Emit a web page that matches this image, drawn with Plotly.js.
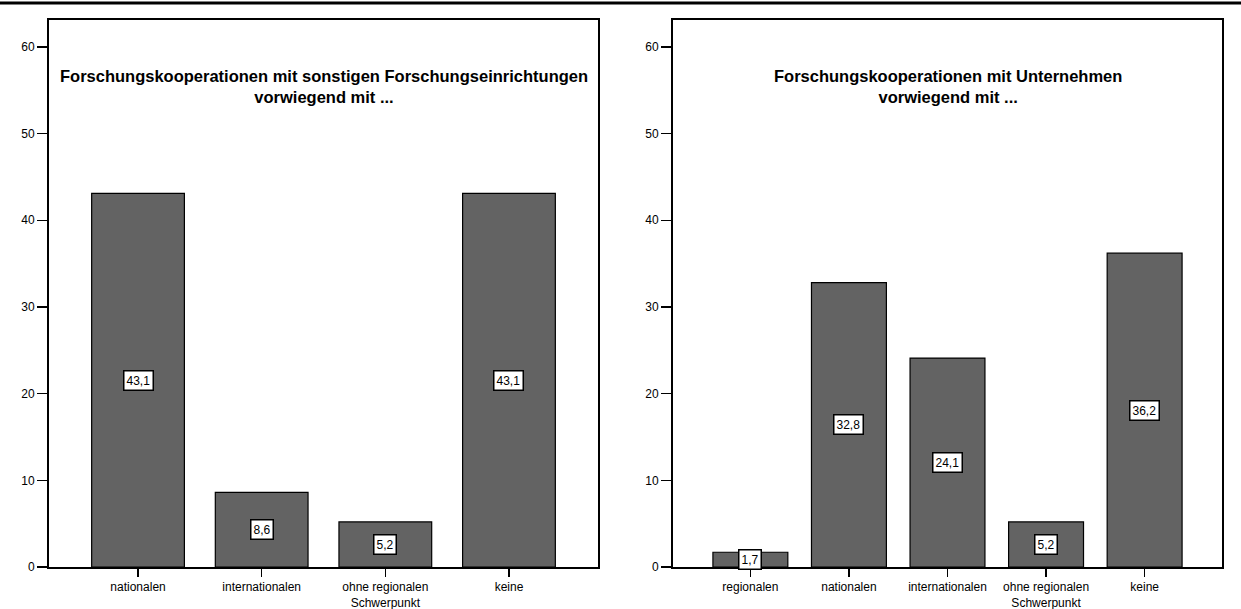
<!DOCTYPE html>
<html>
<head>
<meta charset="utf-8">
<script src="https://cdn.plot.ly/plotly-3.0.1.min.js"></script>
<style>
html,body{margin:0;padding:0;background:#fff;}
#chart{width:1241px;height:609px;}
</style>
</head>
<body>
<div id="chart"></div>
<script>
const leftCategories = ["nationalen", "internationalen", "ohne regionalen<br>Schwerpunkt", "keine"];
const leftValues = [43.1, 8.6, 5.2, 43.1];
const leftTitle = "Forschungskooperationen mit sonstigen Forschungseinrichtungen<br>vorwiegend mit ...";

const rightCategories = ["regionalen", "nationalen", "internationalen", "ohne regionalen<br>Schwerpunkt", "keine"];
const rightValues = [1.7, 32.8, 24.1, 5.2, 36.2];
const rightTitle = "Forschungskooperationen mit Unternehmen<br>vorwiegend mit ...";

const yTicks = [0, 10, 20, 30, 40, 50, 60];

const W = 1241, H = 609;
const FONT = "Arial, 'Liberation Sans', sans-serif";
const fmt = v => v.toFixed(1).replace(".", ",");

const barStyle = {color: "#636363", line: {color: "#000", width: 1.2}};

const traces = [
  {type: "bar", x: leftCategories, y: leftValues, xaxis: "x", yaxis: "y",
   marker: barStyle, width: 0.75, hoverinfo: "x+y"},
  {type: "bar", x: rightCategories, y: rightValues, xaxis: "x2", yaxis: "y2",
   marker: barStyle, width: 0.76, hoverinfo: "x+y"}
];

function xAxis(domain, n, anchor) {
  const pad = n === 4 ? 0.72 : 0.785;
  return {
    domain: domain, anchor: anchor, type: "category",
    range: [-pad, n - 1 + pad],
    showline: true, linecolor: "#000", linewidth: 2, mirror: true,
    ticks: "outside", ticklen: 8, tickwidth: 1.5, tickcolor: "#000",
    showgrid: false, zeroline: false, fixedrange: true,
    tickfont: {family: FONT, size: 12, color: "#000"}
  };
}
function yAxis(domain, anchor) {
  return {
    domain: domain, anchor: anchor, range: [0, 63.1],
    tickvals: yTicks, ticktext: yTicks.map(String),
    showline: true, linecolor: "#000", linewidth: 2, mirror: true,
    ticks: "outside", ticklen: 10, tickwidth: 1.5, tickcolor: "#000",
    showgrid: false, zeroline: false, fixedrange: true,
    tickfont: {family: FONT, size: 12, color: "#000"}
  };
}

const yDom = [(H - 567) / H, (H - 20) / H];
const annotations = [];
function valueLabel(c, v, xr, yr) {
  return {
    x: c, y: v / 2, xref: xr, yref: yr, text: fmt(v),
    xanchor: "center", yanchor: "middle",
    showarrow: false, bgcolor: "#fff", bordercolor: "#000", borderwidth: 1.5, borderpad: 2,
    font: {family: FONT, size: 12, color: "#000"}
  };
}
leftCategories.forEach((c, i) => annotations.push(valueLabel(c, leftValues[i], "x", "y")));
rightCategories.forEach((c, i) => annotations.push(valueLabel(c, rightValues[i], "x2", "y2")));
annotations.push({
  x: (49 + 598) / 2 / W, y: (H - 86) / H, xref: "paper", yref: "paper",
  xanchor: "center", yanchor: "middle",
  text: "<b>" + leftTitle + "</b>", showarrow: false, align: "center",
  font: {family: FONT, size: 16.5, color: "#000"}
});
annotations.push({
  x: (673 + 1222) / 2 / W, y: (H - 86) / H, xref: "paper", yref: "paper",
  xanchor: "center", yanchor: "middle",
  text: "<b>" + rightTitle + "</b>", showarrow: false, align: "center",
  font: {family: FONT, size: 16.5, color: "#000"}
});

const layout = {
  width: W, height: H,
  margin: {l: 0, r: 0, t: 0, b: 0},
  paper_bgcolor: "#fff", plot_bgcolor: "#fff",
  showlegend: false,
  font: {family: FONT, color: "#000"},
  xaxis: xAxis([49 / W, 598 / W], leftCategories.length, "y"),
  yaxis: yAxis(yDom, "x"),
  xaxis2: xAxis([673 / W, 1222 / W], rightCategories.length, "y2"),
  yaxis2: yAxis(yDom, "x2"),
  annotations: annotations,
  shapes: [{
    type: "line", xref: "paper", yref: "paper",
    x0: 0, x1: 1, y0: (H - 3) / H, y1: (H - 3) / H,
    line: {color: "#000", width: 3}
  }]
};

Plotly.newPlot("chart", traces, layout, {displayModeBar: false, staticPlot: true});
</script>
</body>
</html>
